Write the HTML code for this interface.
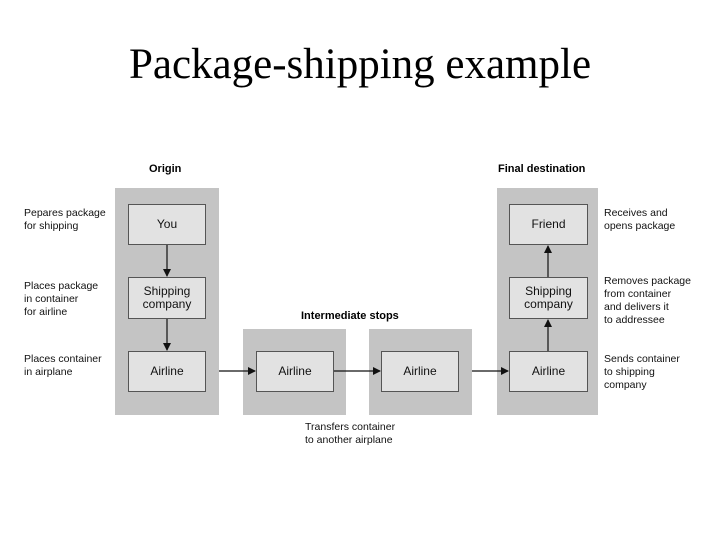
<!DOCTYPE html>
<html><head><style>
body{margin:0;width:720px;height:540px;background:#fff;position:relative;overflow:hidden;font-family:"Liberation Sans",sans-serif;}
.t{position:absolute;left:0;width:720px;text-align:center;top:40px;font-family:"Liberation Serif",serif;font-size:43px;line-height:50px;}
.p{position:absolute;background:#c4c4c4;}
.b{position:absolute;background:#e2e2e2;border:1px solid #555;box-sizing:border-box;display:flex;align-items:center;justify-content:center;text-align:center;font-size:12px;line-height:13px;color:#111;}
.l{position:absolute;font-size:10.5px;line-height:13px;color:#111;white-space:nowrap;}
.h{position:absolute;font-size:11px;font-weight:bold;white-space:nowrap;}
</style></head><body>
<div class="t">Package-shipping example</div>
<div class="p" style="left:115px;top:188px;width:104px;height:227px"></div>
<div class="p" style="left:243px;top:329px;width:103px;height:86px"></div>
<div class="p" style="left:369px;top:329px;width:103px;height:86px"></div>
<div class="p" style="left:497px;top:188px;width:101px;height:227px"></div>
<div class="b" style="left:128px;top:204px;width:78px;height:41px">You</div>
<div class="b" style="left:128px;top:277px;width:78px;height:42px">Shipping<br>company</div>
<div class="b" style="left:128px;top:351px;width:78px;height:41px">Airline</div>
<div class="b" style="left:256px;top:351px;width:78px;height:41px">Airline</div>
<div class="b" style="left:381px;top:351px;width:78px;height:41px">Airline</div>
<div class="b" style="left:509px;top:351px;width:79px;height:41px">Airline</div>
<div class="b" style="left:509px;top:277px;width:79px;height:42px">Shipping<br>company</div>
<div class="b" style="left:509px;top:204px;width:79px;height:41px">Friend</div>
<svg width="720" height="540" style="position:absolute;left:0;top:0">
<defs><marker id="a" markerWidth="8" markerHeight="8" refX="7" refY="4" orient="auto" markerUnits="userSpaceOnUse"><path d="M0,0L8,4L0,8z" fill="#111"/></marker></defs>
<g stroke="#111" stroke-width="1.2">
<line x1="167" y1="245" x2="167" y2="276" marker-end="url(#a)"/>
<line x1="167" y1="319" x2="167" y2="350" marker-end="url(#a)"/>
<line x1="219" y1="371" x2="255" y2="371" marker-end="url(#a)"/>
<line x1="334" y1="371" x2="380" y2="371" marker-end="url(#a)"/>
<line x1="472" y1="371" x2="508" y2="371" marker-end="url(#a)"/>
<line x1="548" y1="351" x2="548" y2="320" marker-end="url(#a)"/>
<line x1="548" y1="277" x2="548" y2="246" marker-end="url(#a)"/>
</g></svg>
<div class="h" style="left:149px;top:163px">Origin</div>
<div class="h" style="left:498px;top:163px">Final destination</div>
<div class="h" style="left:301px;top:310px">Intermediate stops</div>
<div class="l" style="left:24px;top:207px">Pepares package<br>for shipping</div>
<div class="l" style="left:24px;top:280px">Places package<br>in container<br>for airline</div>
<div class="l" style="left:24px;top:353px">Places container<br>in airplane</div>
<div class="l" style="left:604px;top:207px">Receives and<br>opens package</div>
<div class="l" style="left:604px;top:275px">Removes package<br>from container<br>and delivers it<br>to addressee</div>
<div class="l" style="left:604px;top:353px">Sends container<br>to shipping<br>company</div>
<div class="l" style="left:305px;top:421px">Transfers container<br>to another airplane</div>
</body></html>
